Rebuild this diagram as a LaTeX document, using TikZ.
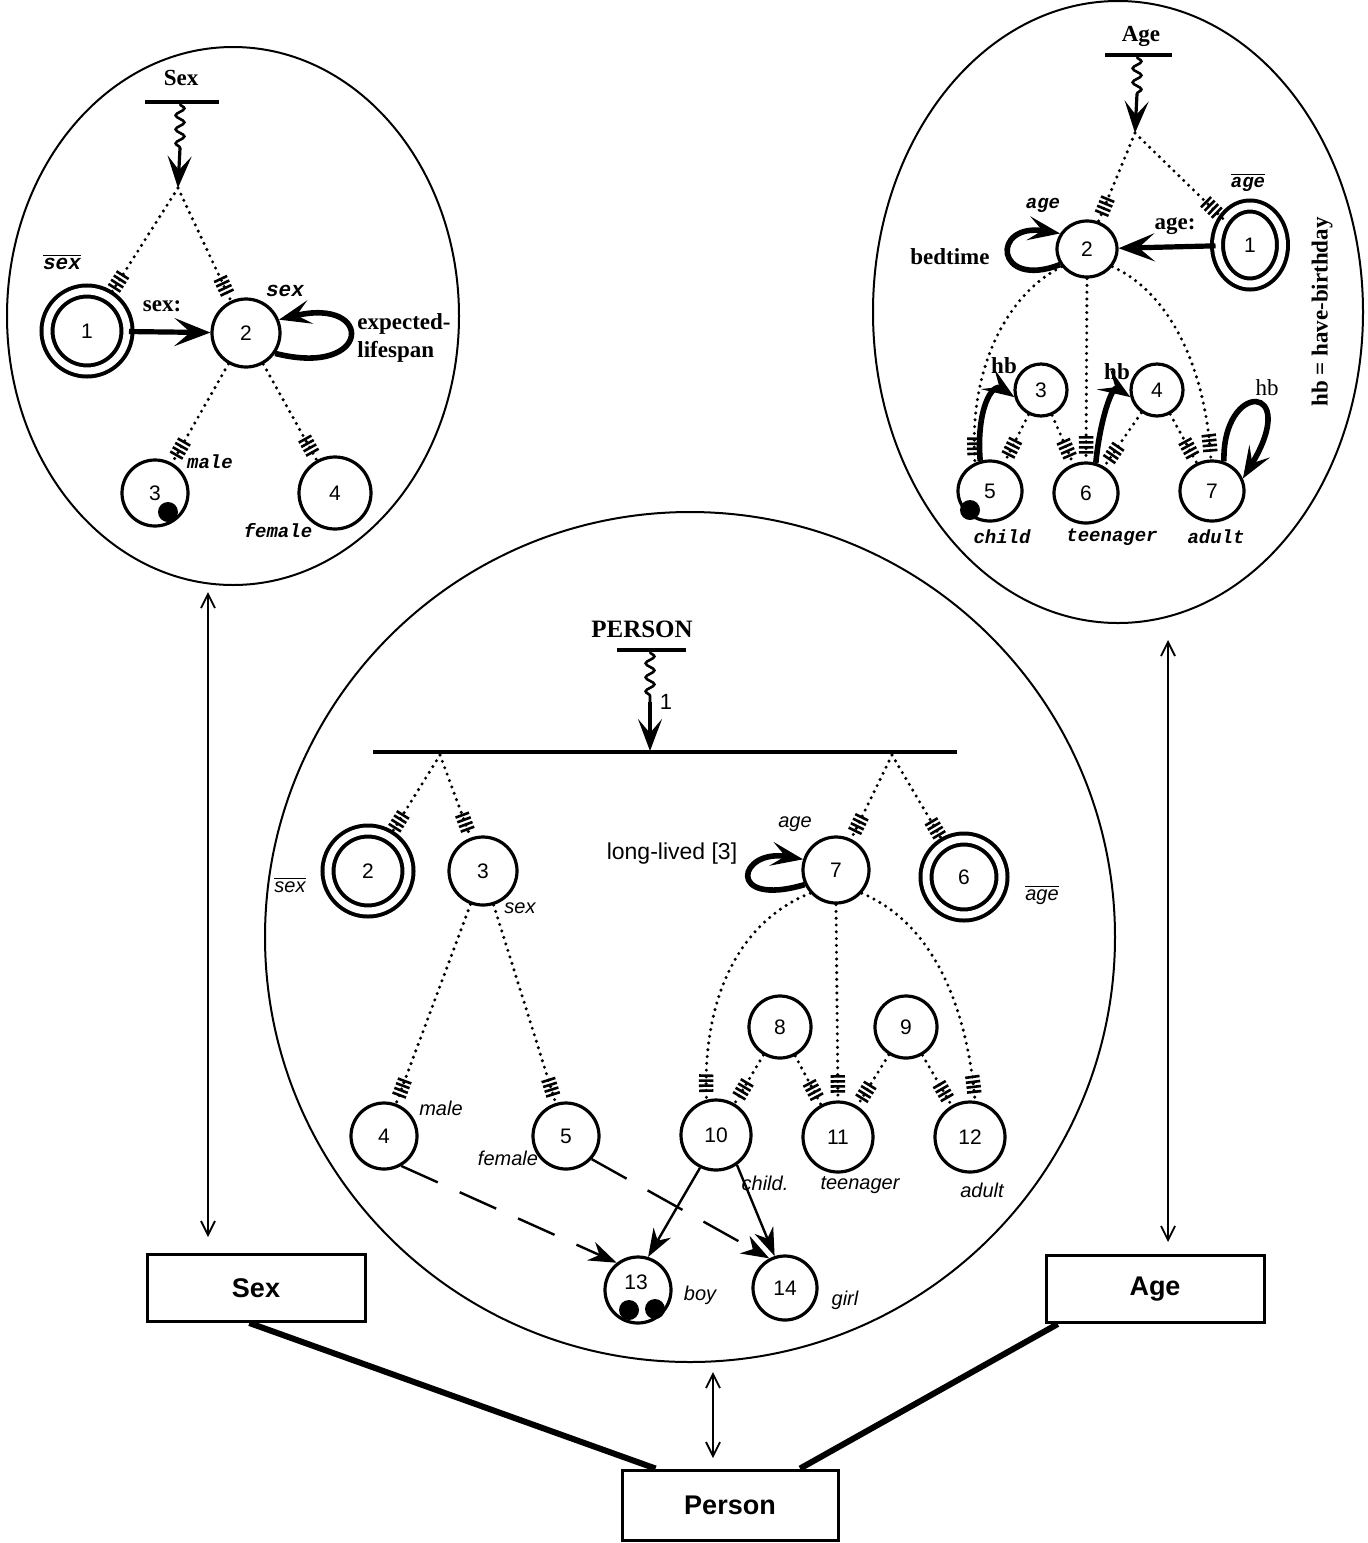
\documentclass[tikz,border=0pt]{standalone}
\usepackage{fontspec}
\setmainfont{Liberation Serif}
\setsansfont{Liberation Sans}
\newfontfamily\monof{Liberation Mono}
\usetikzlibrary{arrows.meta,decorations.pathmorphing,decorations.markings,shapes.geometric,calc}
\tikzset{
  st/.style={ellipse,draw,line width=1.6pt,inner sep=0pt,font=\sffamily\fontsize{10.5}{12}\selectfont},
  dbl/.style={st,line width=2pt,double=white,double distance=3.5pt},
  dots/.style={line width=1.7pt,dash pattern=on 0pt off 3.4pt,line cap=round},
  hashmark/.style={solid,line width=1.3pt,line cap=butt},
  hashed/.style={postaction={decorate},decoration={markings,
     mark=at position -4.5pt with {\draw[hashmark] (0,-3.6pt)--(0,3.6pt);},
     mark=at position -7pt with {\draw[hashmark] (0,-3.6pt)--(0,3.6pt);},
     mark=at position -9.5pt with {\draw[hashmark] (0,-3.6pt)--(0,3.6pt);},
     mark=at position -12pt with {\draw[hashmark] (0,-3.6pt)--(0,3.6pt);}}},
  wavy/.style={line width=1.3pt,decorate,decoration={snake,amplitude=2.2pt,segment length=7pt}},
  downarr/.style={line width=1.6pt,-{Stealth[length=16pt,width=12pt,inset=7pt]}},
  bar/.style={line width=2pt},
  thickarr/.style={line width=2.6pt,-{Stealth[length=18pt,width=14pt,inset=8pt]}},
  looparr/.style={line width=2.8pt,-{Stealth[length=16pt,width=12pt,inset=7pt]}},
  world/.style={line width=1pt},
  box/.style={draw,line width=1.5pt,inner sep=0pt,minimum width=109pt,minimum height=33.5pt,font=\sffamily\bfseries\fontsize{13.5}{15}\selectfont},
  dblarr/.style={line width=0.9pt,{Straight Barb[length=7pt,width=7pt]}-{Straight Barb[length=7pt,width=7pt]}},
  link/.style={line width=3pt},
  sertitle/.style={font=\bfseries\fontsize{11.5}{13}\selectfont,inner sep=0pt},
  serlab/.style={font=\bfseries\fontsize{11.5}{14}\selectfont,inner sep=0pt},
  monolab/.style={font=\monof\bfseries\itshape\fontsize{9.5}{11}\selectfont,inner sep=0pt},
  itlab/.style={font=\sffamily\itshape\fontsize{10}{12}\selectfont,inner sep=0pt},
  dot/.style={fill=black},
  dasharr/.style={line width=1.2pt,dash pattern=on 20pt off 12pt,-{Stealth[length=14pt,width=10pt]}},
  solarr/.style={line width=1.2pt,-{Stealth[length=14pt,width=10pt]}}
}
\begin{document}
\begin{tikzpicture}[x=0.5pt,y=-0.5pt]
\fill[white] (0,0) rectangle (1367,1543);
\useasboundingbox (0,0) rectangle (1367,1543);

% ================= SEX world =================
\draw[world] (233,316) ellipse [x radius=226, y radius=269];
\node[sertitle] (sexT) at (181,78) {Sex};
\coordinate (sbarL) at (145,102);
\coordinate (sbarR) at (219,102);
\draw[bar] (sbarL) -- (sbarR);
\coordinate (sw1) at (180,104);
\coordinate (sw2) at (180,148);
\coordinate (sapex) at (178,188);
\draw[wavy] (sw1) -- (sw2);
\draw[downarr] (sw2) -- (sapex);

\node[dbl,minimum size=40pt] (s1) at (87,331) {1};
\node[st,minimum size=34pt] (s2) at (246,333) {2};
\node[st,minimum size=33pt] (s3) at (155,493) {3};
\node[st,minimum size=36pt] (s4) at (335,493) {4};
\fill[dot] (168,512) circle [radius=10];

\draw[dots,hashed] (sapex) -- (s1);
\draw[dots,hashed] (sapex) -- (s2);
\draw[dots,hashed] (s2) -- (s3);
\draw[dots,hashed] (s2) -- (s4);

\draw[thickarr] (s1) -- (s2);
\draw[looparr] (s2.-35) .. controls (372,378) and (375,296) .. (s2.22);

\node[monolab,font=\monof\bfseries\itshape\fontsize{10.5}{12}\selectfont] (sexbar) at (62,262) {$\overline{\hbox{sex}}$};
\node[serlab] (sexcolon) at (162,306) {sex:};
\node[monolab,font=\monof\bfseries\itshape\fontsize{10.5}{12}\selectfont] (sexlab) at (285,291) {sex};
\node[serlab,align=left,anchor=west] (expl) at (357,338) {expected-\\lifespan};
\node[monolab] (male) at (210,462) {male};
\node[monolab] (female) at (278,531) {female};

% ================= AGE world =================
\draw[world] (1118,312) ellipse [x radius=245, y radius=311];
\node[sertitle] (ageT) at (1141,36) {Age};
\coordinate (abarL) at (1105,55);
\coordinate (abarR) at (1172,55);
\draw[bar] (abarL) -- (abarR);
\coordinate (aw1) at (1137,57);
\coordinate (aw2) at (1137,94);
\coordinate (aapex) at (1135,133);
\draw[wavy] (aw1) -- (aw2);
\draw[downarr] (aw2) -- (aapex);

\node[dbl,minimum width=32.5pt,minimum height=39pt] (a1) at (1250,245) {1};
\node[st,minimum width=30pt,minimum height=28pt] (a2) at (1087,249) {2};
\node[st,minimum size=26pt] (a3) at (1041,390) {3};
\node[st,minimum size=26pt] (a4) at (1157,390) {4};
\node[st,minimum width=32pt,minimum height=30pt] (a5) at (990,491) {5};
\node[st,minimum width=32pt,minimum height=30pt] (a6) at (1086,493) {6};
\node[st,minimum width=32pt,minimum height=30pt] (a7) at (1212,491) {7};
\fill[dot] (970,510) circle [radius=10];

\draw[dots,hashed] (aapex) -- (a2);
\draw[dots,hashed] (aapex) -- (a1);
\draw[dots,hashed] (a2.215) .. controls (1010,292) and (968,365) .. (a5.118);
\draw[dots,hashed] (a2.south) -- (a6.north);
\draw[dots,hashed] (a2.-35) .. controls (1165,290) and (1205,360) .. (a7.92);
\draw[dots,hashed] (a3) -- (a5);
\draw[dots,hashed] (a3) -- (a6);
\draw[dots,hashed] (a4) -- (a6);
\draw[dots,hashed] (a4) -- (a7);

\draw[thickarr] (a1) -- (a2);
\draw[looparr] (a2.210) .. controls (995,290) and (990,222) .. (a2.150);
\draw[looparr] (a5.108) .. controls (976,410) and (992,382) .. (a3.195);
\draw[looparr] (a6.72) .. controls (1100,420) and (1112,385) .. (a4.195);
\draw[looparr] (a7.68) .. controls (1222,380) and (1302,382) .. (a7.22);

\node[monolab] (agel) at (1043,205) {age};
\node[serlab] (agecolon) at (1175,226) {age:};
\node[serlab] (bedtime) at (950,257) {bedtime};
\node[monolab] (agebar) at (1248,182) {$\overline{\hbox{age}}$};
\node[serlab] (hb1) at (1004,366) {hb};
\node[serlab] (hb2) at (1117,372) {hb};
\node[font=\fontsize{11.5}{14}\selectfont,inner sep=0pt] (hb3) at (1267,388) {hb};
\node[serlab,rotate=90] (hbdef) at (1322,312) {hb = have-birthday};
\node[monolab] (child) at (1002,537) {child};
\node[monolab] (teen) at (1112,537) {teenager};
\node[monolab] (adult) at (1216,537) {adult};

% ================= PERSON world =================
\draw[world] (690,937) circle [radius=425];
\node[font=\bfseries\fontsize{12.5}{14}\selectfont,inner sep=0pt] (personT) at (642,629) {PERSON};
\coordinate (pbarL) at (617,650);
\coordinate (pbarR) at (686,650);
\draw[bar] (pbarL) -- (pbarR);
\coordinate (pw1) at (650,652);
\coordinate (pw2) at (650,702);
\coordinate (ptip) at (650,751);
\draw[wavy] (pw1) -- (pw2);
\draw[downarr] (pw2) -- (ptip);
\node[font=\sffamily\fontsize{11}{13}\selectfont,inner sep=0pt] (one) at (666,702) {1};
\coordinate (bigL) at (373,752);
\coordinate (bigR) at (957,752);
\draw[line width=2.3pt] (bigL) -- (bigR);
\coordinate (pA) at (440,755);
\coordinate (pB) at (892,755);

\node[dbl,minimum size=40pt] (p2) at (368,871) {2};
\node[st,minimum size=34pt] (p3) at (483,871) {3};
\node[st,minimum size=33pt] (p7) at (836,870) {7};
\node[dbl,minimum size=38pt] (p6) at (964,877) {6};
\node[st,minimum size=31pt] (p8) at (780,1027) {8};
\node[st,minimum size=31pt] (p9) at (906,1027) {9};
\node[st,minimum size=33pt] (p4) at (384,1136) {4};
\node[st,minimum size=33pt] (p5) at (566,1136) {5};
\node[st,minimum size=35pt] (p10) at (716,1135) {10};
\node[st,minimum size=35pt] (p11) at (838,1137) {11};
\node[st,minimum size=35pt] (p12) at (970,1137) {12};
\node[st,minimum size=33pt] (p13) at (638,1290) {};
\node[font=\sffamily\fontsize{10.5}{12}\selectfont,inner sep=0pt] (p13n) at (636,1282) {13};
\node[st,minimum size=32pt] (p14) at (785,1288) {14};
\fill[dot] (629,1310) circle [radius=10];
\fill[dot] (655,1309) circle [radius=10];

\draw[dots,hashed] (pA) -- (p2);
\draw[dots,hashed] (pA) -- (p3);
\draw[dots,hashed] (pB) -- (p7);
\draw[dots,hashed] (pB) -- (p6);
\draw[dots,hashed] (p3) -- (p4);
\draw[dots,hashed] (p3) -- (p5);
\draw[dots,hashed] (p7.222) .. controls (738,922) and (702,1000) .. (p10.105);
\draw[dots,hashed] (p7.south) -- (p11.north);
\draw[dots,hashed] (p7.-42) .. controls (930,922) and (966,1000) .. (p12.82);
\draw[dots,hashed] (p8) -- (p10);
\draw[dots,hashed] (p8) -- (p11);
\draw[dots,hashed] (p9) -- (p11);
\draw[dots,hashed] (p9) -- (p12);

\draw[looparr] (p7.205) .. controls (725,908) and (738,848) .. (p7.162);

\node[itlab] (p7age) at (795,824) {age};
\node[font=\sffamily\fontsize{11.5}{13}\selectfont,inner sep=0pt] (ll) at (672,854) {long-lived [3]};
\node[itlab] (psexbar) at (290,885) {$\overline{\hbox{sex}}$};
\node[itlab] (psex) at (520,908) {sex};
\node[itlab] (pagebar) at (1042,895) {$\overline{\hbox{age}}$};
\node[itlab] (pmale) at (441,1108) {male};
\node[itlab] (pfemale) at (508,1158) {female};
\node[itlab] (pchild) at (765,1183) {child.};
\node[itlab] (pteen) at (860,1185) {teenager};
\node[itlab] (padult) at (982,1190) {adult};
\node[itlab] (pboy) at (700,1295) {boy};
\node[itlab] (pgirl) at (845,1300) {girl};

\draw[dasharr] (p4.-60) -- (p13.128);
\draw[dasharr] (p5.-42) -- (p14.118);
\draw[solarr] (p10.-116) -- (p13.73);
\draw[solarr] (p10.-55) -- (p14.108);

% ================= boxes and links =================
\node[box] (sexbox) at (256,1288) {Sex};
\node[box] (agebox) at (1155,1289) {Age};
\node[box,minimum width=108pt,minimum height=35pt] (personbox) at (730,1505) {Person};

\coordinate (lsTop) at (208,592);
\coordinate (lsBot) at (208,1237);
\coordinate (laTop) at (1168,640);
\coordinate (laBot) at (1168,1242);
\coordinate (lpTop) at (713,1372);
\coordinate (lpBot) at (713,1458);
\draw[dblarr] (lsTop) -- (lsBot);
\draw[dblarr] (laTop) -- (laBot);
\draw[dblarr] (lpTop) -- (lpBot);

\draw[link] ($(sexbox.south west)!0.47!(sexbox.south east)$) -- ($(personbox.north west)!0.16!(personbox.north east)$);
\draw[link] ($(agebox.south west)!0.06!(agebox.south east)$) -- ($(personbox.north west)!0.82!(personbox.north east)$);
\end{tikzpicture}
\end{document}
